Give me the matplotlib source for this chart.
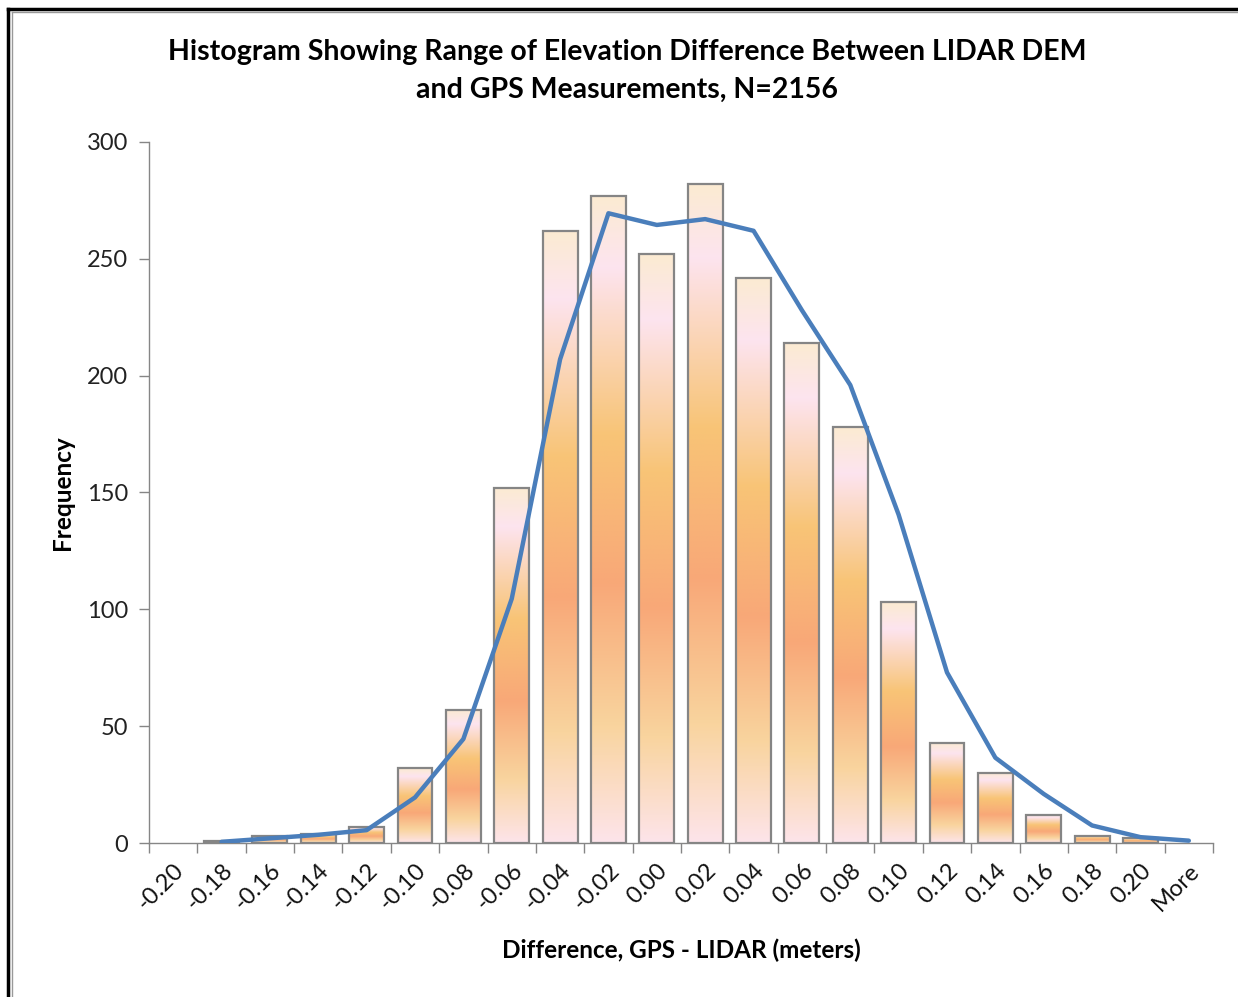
import numpy as np
import matplotlib
matplotlib.use("Agg")
import matplotlib.pyplot as plt
from matplotlib.colors import LinearSegmentedColormap
from matplotlib.lines import Line2D

categories = ["-0.20", "-0.18", "-0.16", "-0.14", "-0.12", "-0.10", "-0.08", "-0.06",
              "-0.04", "-0.02", "0.00", "0.02", "0.04", "0.06", "0.08", "0.10",
              "0.12", "0.14", "0.16", "0.18", "0.20", "More"]
frequency = [0, 1, 3, 4, 7, 32, 57, 152, 262, 277, 252, 282, 242, 214, 178, 103,
             43, 30, 12, 3, 2, 0]
# 2-period moving average trend line (starts at second category)
trend_labels = categories[1:]
trend_values = [0.5, 2, 3.5, 5.5, 19.5, 44.5, 104.5, 207, 269.5, 264.5, 267, 262,
                228, 196, 140.5, 73, 36.5, 21, 7.5, 2.5, 1]

plt.rcParams['font.family'] = ['Lato', 'DejaVu Sans']

fig = plt.figure(figsize=(12.38, 9.97), dpi=100)
ax = fig.add_axes([149/1238, 154/997, 1064/1238, 701/997])

x = np.arange(len(categories))
grad = LinearSegmentedColormap.from_list("daybreak", [
    (0.0, "#FBEBD2"), (0.11, "#FDE4EF"), (0.37, "#F8C476"),
    (0.60, "#F8A878"), (0.82, "#F9D49E"), (1.0, "#FDE4EA")])
gimg = np.linspace(0, 1, 256).reshape(-1, 1)  # row 0 = top of bar

bars = ax.bar(x, frequency, width=0.72, facecolor="none", edgecolor="#858585",
              linewidth=1.6, zorder=3)
for b, h in zip(bars, frequency):
    if h <= 0:
        b.set_visible(False)
        continue
    x0 = b.get_x()
    im = ax.imshow(gimg, cmap=grad, aspect="auto", vmin=0, vmax=1, origin="upper",
                   extent=[x0, x0 + b.get_width(), 0, h], zorder=2,
                   interpolation="bilinear")
    im.set_clip_path(b)

tx = [categories.index(c) for c in trend_labels]
ax.plot(tx, trend_values, color="#4A7EBB", linewidth=3.2, zorder=4,
        solid_capstyle="round", solid_joinstyle="round")

ax.set_xlim(-0.5, len(categories) - 0.5)
ax.set_ylim(0, 300)
ax.set_yticks(np.arange(0, 301, 50))
ax.tick_params(axis="y", direction="out", length=7, width=1, color="#868686",
               labelsize=17, pad=8, labelcolor="#222222")
ax.set_xticks(np.arange(-0.5, len(categories), 1))
ax.set_xticklabels([])
ax.tick_params(axis="x", which="major", direction="out", length=7, width=1,
               color="#868686")
ax.set_xticks(x, minor=True)
ax.set_xticklabels(categories, minor=True, rotation=45, ha="right", va="top",
                   rotation_mode="anchor", fontsize=17, color="#111111")
ax.tick_params(axis="x", which="minor", length=0, pad=12)

for s in ["top", "right"]:
    ax.spines[s].set_visible(False)
for s in ["left", "bottom"]:
    ax.spines[s].set_color("#868686")
    ax.spines[s].set_linewidth(1)

fig.text(627/1238, 1 - 52/997, "Histogram Showing Range of Elevation Difference Between LIDAR DEM",
         ha="center", va="center", fontsize=20.5, fontweight="bold")
fig.text(627/1238, 1 - 90/997, "and GPS Measurements, N=2156",
         ha="center", va="center", fontsize=20.5, fontweight="bold")
fig.text(681/1238, 1 - 950/997, "Difference, GPS - LIDAR (meters)",
         ha="center", va="center", fontsize=17.5, fontweight="bold")
fig.text(62/1238, 1 - 493/997, "Frequency", ha="center", va="center",
         rotation=90, fontsize=17.5, fontweight="bold")

# outer frame
fig.add_artist(Line2D([8/1238, 8/1238], [0, 1 - 9/997], color="black", lw=2.5,
                      transform=fig.transFigure))
fig.add_artist(Line2D([8/1238, 1], [1 - 9/997, 1 - 9/997], color="black", lw=2.5,
                      transform=fig.transFigure))
fig.add_artist(Line2D([11.5/1238, 11.5/1238], [0, 1 - 12.5/997], color="#999999", lw=1,
                      transform=fig.transFigure))
fig.add_artist(Line2D([11.5/1238, 1], [1 - 12.5/997, 1 - 12.5/997], color="#999999", lw=1,
                      transform=fig.transFigure))

fig.savefig("out.png", dpi=100)
